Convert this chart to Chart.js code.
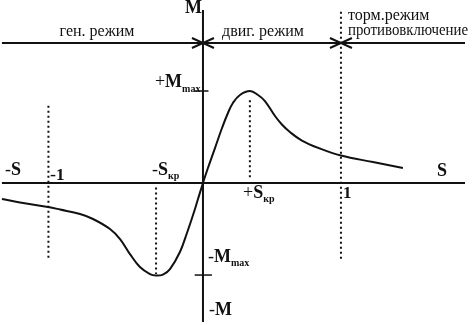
<!DOCTYPE html>
<html>
<head>
<meta charset="utf-8">
<script src="https://cdn.jsdelivr.net/npm/chart.js"></script>
<style>
html, body { margin: 0; padding: 0; background: #fff; }
canvas { display: block; }
</style>
</head>
<body>
<canvas id="chart" width="473" height="325"></canvas>
<script>
// механическая характеристика асинхронного двигателя M(S), M в долях Mmax
const slip = [-1.457, -1.326, -1.123, -1.036, -0.891, -0.797, -0.674, -0.601, -0.529, -0.457, -0.384, -0.341, -0.290, -0.239, -0.167, -0.116, -0.072, -0.036, 0, 0.036, 0.087, 0.138, 0.181, 0.217, 0.268, 0.341, 0.399, 0.449, 0.522, 0.572, 0.630, 0.717, 0.848, 1.0, 1.232, 1.449];
const torque = [-0.174, -0.212, -0.261, -0.288, -0.337, -0.391, -0.500, -0.609, -0.772, -0.913, -0.989, -1.005, -0.995, -0.935, -0.750, -0.543, -0.348, -0.174, 0, 0.163, 0.380, 0.598, 0.761, 0.870, 0.957, 1.0, 0.957, 0.891, 0.728, 0.636, 0.554, 0.462, 0.375, 0.299, 0.228, 0.163];

// пунктирные линии: S = -1, -Sкр, +Sкр, 1
const guideS = [-1.12, -0.34, 0.34, 1];
const guideTop = [0.84, -0.05, 0.90, 1.86];
const guideBottom = [-0.84, -0.99, 0.05, -0.85];

// оси и линия режимов
const sAxisRange = [-1.457, 1.899];
const mAxisRange = [-1.51, 1.88];
const modeLineM = 1.522;
const modeBorders = [0, 1];
const mmaxTicks = [1, -1];

const INK = '#111';
const serif = '"Liberation Serif", "Times New Roman", serif';

// подписи: положение в единицах S / M, текст кусками [текст, шрифт, сдвиг вниз]
const labels = [
  { s: -0.130, m: 1.848, parts: [['M', 'bold 18px']] },
  { s: -0.768, m: 1.598, align: 'center', parts: [['ген. режим', '16px']] },
  { s: 0.138, m: 1.598, parts: [['двиг. режим', '16px']] },
  { s: 1.051, m: 1.772, parts: [['торм.режим', '16px']] },
  { s: 1.051, m: 1.609, maxWidth: 120, parts: [['противовключение', '16px']] },
  { s: -0.348, m: 1.043, parts: [['+', '18px'], ['M', 'bold 18px'], ['max', 'bold 10px', 5]] },
  { s: 0.036, m: -0.859, parts: [['-', '18px'], ['M', 'bold 18px'], ['max', 'bold 10px', 4]] },
  { s: 0.043, m: -1.435, parts: [['-', '18px'], ['M', 'bold 18px']] },
  { s: -1.435, m: 0.087, parts: [['-', '18px'], ['S', 'bold 18px']] },
  { s: -1.109, m: 0.033, parts: [['-', '18px'], ['1', 'bold 17px']] },
  { s: -0.370, m: 0.087, parts: [['-', '18px'], ['S', 'bold 18px'], ['кр', 'bold 10px', 4]] },
  { s: 0.290, m: -0.163, parts: [['+', '18px'], ['S', 'bold 18px'], ['кр', 'bold 10px', 4]] },
  { s: 1.014, m: -0.163, parts: [['1', 'bold 17px']] },
  { s: 1.696, m: 0.076, parts: [['S', 'bold 18px']] }
];

function seg(x1, y1, x2, y2, extra) {
  return Object.assign({
    data: [{ x: x1, y: y1 }, { x: x2, y: y2 }],
    borderColor: INK,
    borderWidth: 2,
    pointRadius: 0,
    showLine: true,
    tension: 0
  }, extra || {});
}

const datasets = [];
datasets.push({
  data: slip.map((s, i) => ({ x: s, y: torque[i] })),
  borderColor: INK,
  borderWidth: 2,
  pointRadius: 0,
  showLine: true,
  tension: 0.4
});
datasets.push(seg(sAxisRange[0], 0, sAxisRange[1], 0));
datasets.push(seg(0, mAxisRange[0], 0, mAxisRange[1]));
datasets.push(seg(sAxisRange[0], modeLineM, sAxisRange[1], modeLineM));
guideS.forEach((s, i) => {
  datasets.push(seg(s, guideTop[i], s, guideBottom[i], { borderDash: [2, 3], borderCapStyle: 'butt' }));
});
mmaxTicks.forEach(m => {
  datasets.push(seg(-0.06, m, m > 0 ? 0.04 : 0.065, m, { borderWidth: 1.5 }));
});

// стрелки на границах режимов и текстовые подписи
const annotations = {
  id: 'annotations',
  afterDatasetsDraw(chart) {
    const ctx = chart.ctx;
    const xs = chart.scales.x, ys = chart.scales.y;
    ctx.save();
    ctx.strokeStyle = INK;
    ctx.lineWidth = 2;
    const yl = ys.getPixelForValue(modeLineM);
    modeBorders.forEach(s => {
      const x = xs.getPixelForValue(s);
      ctx.beginPath();
      ctx.moveTo(x - 11, yl - 5); ctx.lineTo(x, yl); ctx.lineTo(x - 11, yl + 5);
      ctx.moveTo(x + 11, yl - 5); ctx.lineTo(x, yl); ctx.lineTo(x + 11, yl + 5);
      ctx.stroke();
    });
    ctx.fillStyle = INK;
    ctx.textBaseline = 'alphabetic';
    labels.forEach(l => {
      let x = xs.getPixelForValue(l.s);
      const y = ys.getPixelForValue(l.m);
      if (l.align === 'center') {
        let w = 0;
        l.parts.forEach(p => { ctx.font = p[1] + ' ' + serif; w += ctx.measureText(p[0]).width; });
        x -= w / 2;
      }
      l.parts.forEach(p => {
        ctx.font = p[1] + ' ' + serif;
        if (l.maxWidth) {
          ctx.fillText(p[0], x, y + (p[2] || 0), l.maxWidth);
        } else {
          ctx.fillText(p[0], x, y + (p[2] || 0));
        }
        x += ctx.measureText(p[0]).width;
      });
    });
    ctx.restore();
  }
};

new Chart(document.getElementById('chart'), {
  type: 'scatter',
  data: { datasets: datasets },
  options: {
    responsive: false,
    animation: false,
    devicePixelRatio: 1,
    layout: { padding: 0 },
    scales: {
      x: { type: 'linear', min: -1.471, max: 1.957, display: false },
      y: { type: 'linear', min: -1.543, max: 1.989, display: false }
    },
    plugins: { legend: { display: false }, tooltip: { enabled: false } }
  },
  plugins: [annotations]
});
</script>
</body>
</html>
